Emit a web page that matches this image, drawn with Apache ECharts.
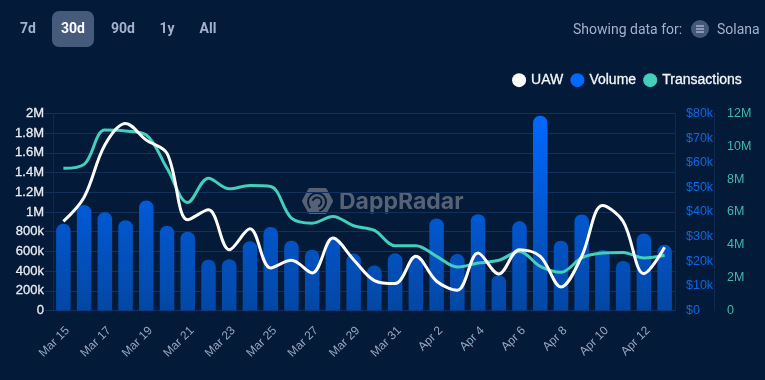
<!DOCTYPE html>
<html><head><meta charset="utf-8">
<style>html,body{margin:0;padding:0;background:#031a38;width:765px;height:380px;overflow:hidden}#c{width:765px;height:380px}</style>
<script src="https://cdn.jsdelivr.net/npm/echarts@6/dist/echarts.min.js"></script>
</head><body><div id="c"></div>
<script>
const categories = ['Mar 15','Mar 16','Mar 17','Mar 18','Mar 19','Mar 20','Mar 21','Mar 22','Mar 23','Mar 24','Mar 25','Mar 26','Mar 27','Mar 28','Mar 29','Mar 30','Mar 31','Apr 1','Apr 2','Apr 3','Apr 4','Apr 5','Apr 6','Apr 7','Apr 8','Apr 9','Apr 10','Apr 11','Apr 12','Apr 13'];
const volume = [35200,42800,39900,36700,44700,34400,32000,20600,20800,28100,33900,28300,24700,29700,23100,18300,23200,22000,37400,22900,39100,14300,36200,79100,28300,39000,24600,20100,31300,26700];
const uaw = [904000,1150000,1680000,1899000,1730000,1595000,921000,1022000,617000,830000,432000,509000,381000,735000,516000,304000,273000,550000,297000,206000,584000,371000,617000,550000,239000,550000,1066000,904000,374000,641000];
const transactions = [8.66,8.90,10.99,10.93,10.69,8.66,6.58,8.06,7.41,7.61,7.55,5.63,5.32,5.73,5.16,4.88,3.95,3.95,3.30,2.65,2.89,3.06,3.60,2.69,2.33,3.20,3.50,3.54,3.20,3.36].map(v => v * 1e6);
const ranges = ['7d','30d','90d','1y','All'];
const rangeX = [28,73,123,167,208];
const fmtM = v => v === 0 ? '0' : v >= 1e6 ? (v / 1e6) + 'M' : (v / 1e3) + 'k';
const font = '"Liberation Sans", Arial, sans-serif';
const tickLine = {show:true,lineStyle:{color:'#0e2a50'}};
const chart = echarts.init(document.getElementById('c'), null, {renderer:'canvas'});
chart.setOption({
  animation:false,
  backgroundColor:'#031a38',
  grid:{left:53,right:90,top:113.5,bottom:69.5,containLabel:false},
  legend:{top:68,right:18,icon:'circle',itemWidth:14,itemHeight:14,itemGap:7,
    selectedMode:false,
    textStyle:{color:'#f4f6fa',fontSize:14,fontFamily:font,textBorderColor:'#f4f6fa',textBorderWidth:0.3},
    data:['UAW','Volume','Transactions']},
  xAxis:{type:'category',data:categories,
    axisLine:{lineStyle:{color:'#14305a'}},axisTick:{show:false},
    axisLabel:{interval:1,rotate:45,color:'#98a6bc',fontSize:12,fontFamily:font,margin:14,verticalAlign:'top'}},
  yAxis:[
    {type:'value',min:0,max:2000000,interval:200000,position:'left',
     axisLine:tickLine,axisTick:{show:true,length:8,lineStyle:{color:'#14305a'}},
     splitLine:{lineStyle:{color:'#14305a',width:1}},
     axisLabel:{color:'#e8ebf1',fontSize:13,fontFamily:font,margin:9,textBorderColor:'#e8ebf1',textBorderWidth:0.3,formatter:fmtM}},
    {type:'value',min:0,max:80000,interval:10000,position:'right',
     axisLine:tickLine,axisTick:{show:false},splitLine:{show:false},
     axisLabel:{color:'#0a6ae8',fontSize:12.5,fontFamily:font,margin:11,formatter:v=>v===0?'$0':'$'+(v/1000)+'k'}},
    {type:'value',min:0,max:12000000,interval:2000000,position:'right',offset:39,
     axisLine:tickLine,axisTick:{show:false},splitLine:{show:false},
     axisLabel:{color:'#3fb9ac',fontSize:12.5,fontFamily:font,margin:13,formatter:fmtM}}
  ],
  series:[
    {name:'Volume',type:'bar',yAxisIndex:1,data:volume,barWidth:14.5,z:1,
     itemStyle:{borderRadius:[7,7,0,0],color:new echarts.graphic.LinearGradient(0,113,0,311,[{offset:0,color:'#0069ff'},{offset:1,color:'#0347a4'}],true)}},
    {name:'Transactions',type:'line',yAxisIndex:2,data:transactions,smooth:0.35,showSymbol:false,symbol:'none',z:2,
     itemStyle:{color:'#44cfbc'},lineStyle:{color:'#44cfbc',width:3}},
    {name:'UAW',type:'line',yAxisIndex:0,data:uaw,smooth:0.35,showSymbol:false,symbol:'none',z:3,
     itemStyle:{color:'#ffffff'},lineStyle:{color:'#ffffff',width:3}}
  ],
  graphic:[
    {type:'rect',shape:{x:52,y:11,width:42,height:36,r:7},style:{fill:'#465a7c'},z:1},
    ...ranges.map((t,i)=>({type:'text',x:rangeX[i],y:29,z:2,style:{text:t,align:'center',verticalAlign:'middle',
       fill:i===1?'#ffffff':'#a3b2cc',font:'bold 14px Roboto, sans-serif'}})),
    {type:'text',x:573,y:30,style:{text:'Showing data for:',verticalAlign:'middle',fill:'#a3b2cc',font:'14px Roboto, sans-serif'}},
    {type:'circle',shape:{cx:700,cy:29,r:9},style:{fill:'#46587a'}},
    {type:'text',x:717,y:30,style:{text:'Solana',verticalAlign:'middle',fill:'#a3b2cc',font:'14px Roboto, sans-serif'}},
    ...[-3,0,3].map(d=>({type:'line',shape:{x1:696,y1:29+d,x2:704,y2:29+d},style:{stroke:'#aab6cc',lineWidth:1.4}})),
    {type:'polygon',z:0,shape:{points:[[310,190],[325,190],[331,201],[325,212],[310,212],[304,201]]},style:{fill:'#566274',stroke:'#566274',lineWidth:4,lineJoin:'round'}},
    {type:'arc',z:0,shape:{cx:317,cy:202,r:9,startAngle:2.4,endAngle:7.6},style:{fill:'none',stroke:'#031a38',lineWidth:2}},
    {type:'arc',z:0,shape:{cx:317,cy:202,r:4.5,startAngle:3.4,endAngle:7.6},style:{fill:'none',stroke:'#031a38',lineWidth:2}},
    {type:'text',z:0,x:339,y:202,style:{text:'DappRadar',verticalAlign:'middle',fill:'#566274',font:'bold 23px Inter, Roboto, sans-serif'}}
  ]
});
</script></body></html>
